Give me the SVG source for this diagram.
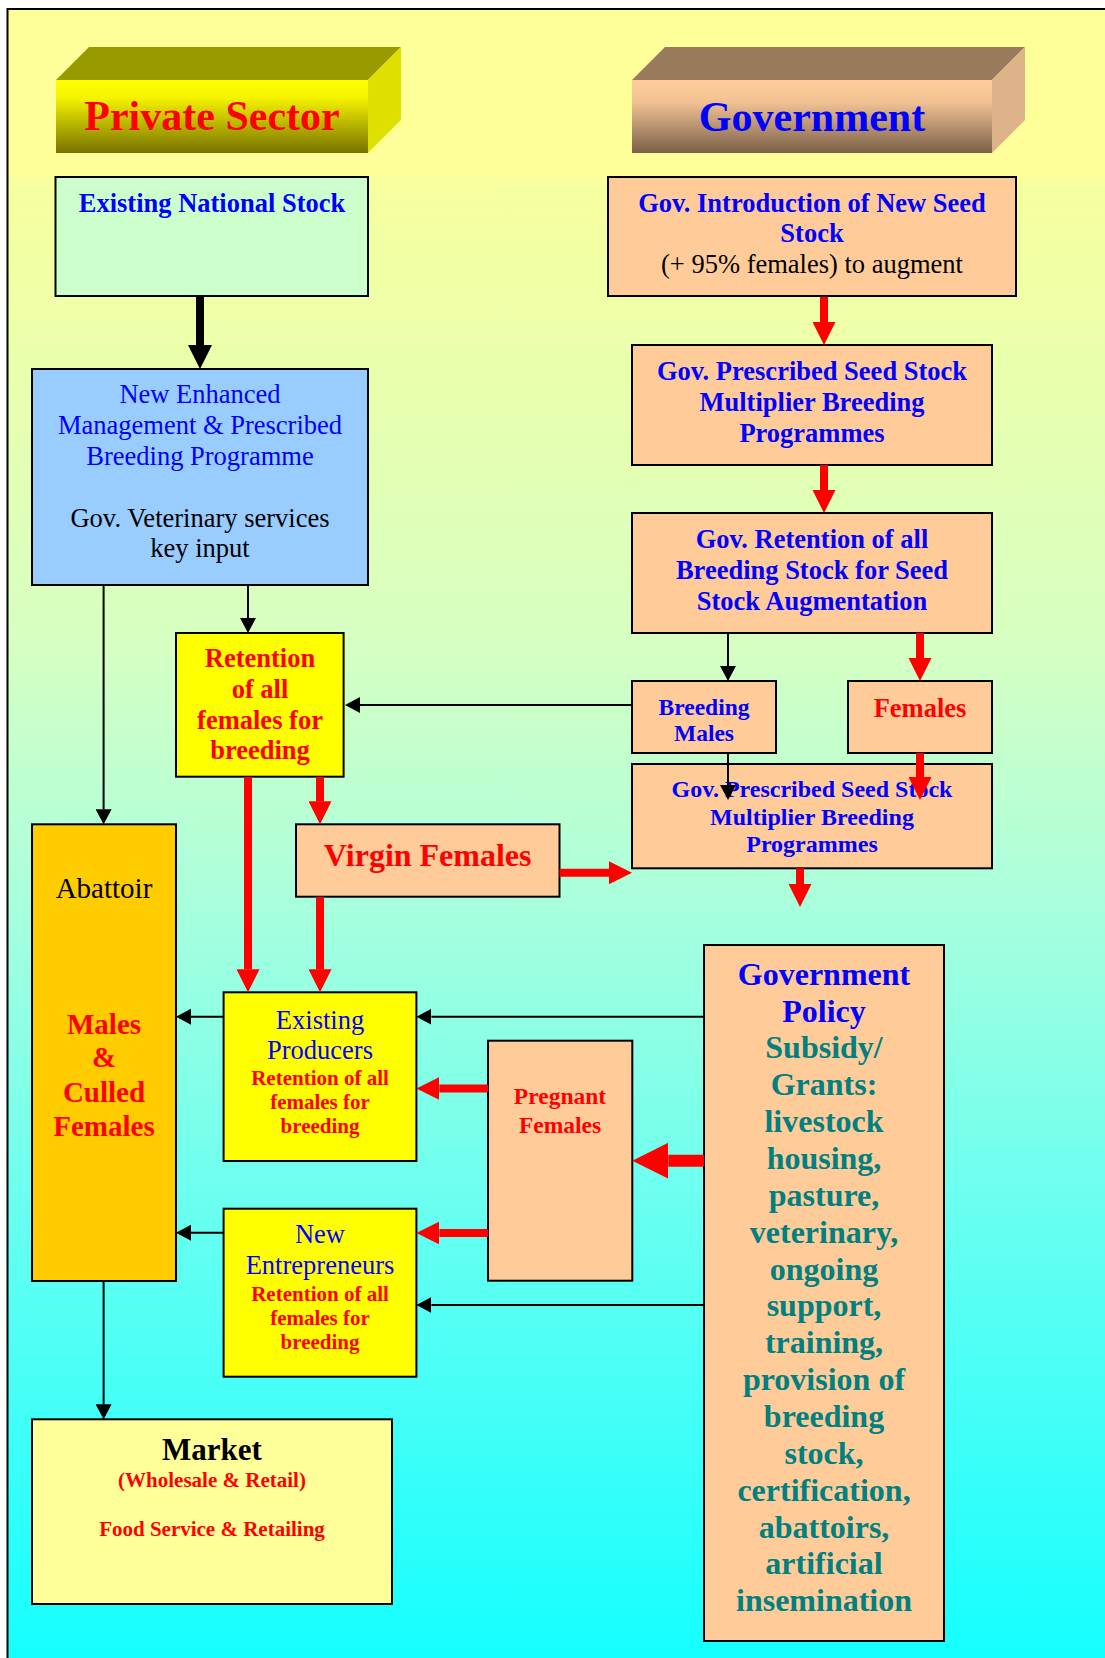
<svg xmlns="http://www.w3.org/2000/svg" width="1105" height="1658" viewBox="0 0 1105 1658">
<defs>
<linearGradient id="bg" gradientUnits="userSpaceOnUse" x1="0" y1="0" x2="0" y2="1658">
<stop offset="0" stop-color="#FFFF99"/>
<stop offset="0.103" stop-color="#FFFF99"/>
<stop offset="0.11" stop-color="#F7FF9E"/>
<stop offset="0.39" stop-color="#D6FFC2"/>
<stop offset="0.54" stop-color="#AAFFDC"/>
<stop offset="0.72" stop-color="#6CFFF0"/>
<stop offset="1" stop-color="#14FFFF"/>
</linearGradient>
<linearGradient id="psFront" x1="0" y1="0" x2="0" y2="1">
<stop offset="0" stop-color="#FFFF00"/>
<stop offset="0.25" stop-color="#F4F200"/>
<stop offset="1" stop-color="#777200"/>
</linearGradient>
<linearGradient id="gvFront" x1="0" y1="0" x2="0" y2="1">
<stop offset="0" stop-color="#FFCC99"/>
<stop offset="0.3" stop-color="#F2C294"/>
<stop offset="1" stop-color="#7A6048"/>
</linearGradient>
<marker id="hb" markerUnits="userSpaceOnUse" viewBox="0 0 15 16" markerWidth="15" markerHeight="16" refX="0" refY="8" orient="auto"><path d="M0,0 L15,8 L0,16 Z" fill="#000"/></marker>
<marker id="hbb" markerUnits="userSpaceOnUse" viewBox="0 0 24 24" markerWidth="24" markerHeight="24" refX="0" refY="12" orient="auto"><path d="M0,0 L24,12 L0,24 Z" fill="#000"/></marker>
<marker id="hr" markerUnits="userSpaceOnUse" viewBox="0 0 23 23" markerWidth="23" markerHeight="23" refX="0" refY="11.5" orient="auto"><path d="M0,0 L23,11.5 L0,23 Z" fill="#FF0000"/></marker>
<marker id="hrb" markerUnits="userSpaceOnUse" viewBox="0 0 36 36" markerWidth="36" markerHeight="36" refX="0" refY="18" orient="auto"><path d="M0,0 L36,18 L0,36 Z" fill="#FF0000"/></marker>
</defs>
<style>
.box{stroke:#000;stroke-width:2}
.t{font-family:"Liberation Serif","Times New Roman",serif;text-anchor:middle}
.b{font-weight:bold}
.s26{font-size:26.5px}
.s24{font-size:24px}
.s23{font-size:23.5px}
.s21{font-size:21px}
.s32{font-size:32px}
.blue{fill:#0000FF}
.red{fill:#FF0000}
.blk{fill:#000}
.teal{fill:#008080}
.thin{stroke:#000;stroke-width:2;fill:none;marker-end:url(#hb)}
.thick{stroke:#000;stroke-width:8;fill:none;marker-end:url(#hbb)}
.rd{stroke:#FF0000;stroke-width:8;fill:none;marker-end:url(#hr)}
.rdb{stroke:#FF0000;stroke-width:12;fill:none;marker-end:url(#hrb)}
</style>
<rect x="0" y="0" width="1105" height="1658" fill="#FFFFFF"/>
<rect x="7.5" y="9" width="1200" height="1700" fill="url(#bg)" stroke="#000" stroke-width="2"/>

<g id="private-sector">
<polygon points="56,80 89,47 401,47 368,80" fill="#999900"/>
<polygon points="368,80 401,47 401,120 368,153" fill="#E0E000"/>
<rect x="56" y="80" width="312" height="73" fill="url(#psFront)"/>
<text class="t b red" x="212" y="130" font-size="42">Private Sector</text>
</g>
<g id="government">
<polygon points="632,80 665,47 1025,47 992,80" fill="#997A5D"/>
<polygon points="992,80 1025,47 1025,120 992,153" fill="#DFB38A"/>
<rect x="632" y="80" width="360" height="73" fill="url(#gvFront)"/>
<text class="t b blue" x="812" y="131" font-size="42">Government</text>
</g>

<g id="existing-national-stock">
<rect class="box" x="55.5" y="177" width="312.5" height="119" fill="#CCFFCC"/>
<text class="t b blue s26" x="212" y="212">Existing National Stock</text>
</g>
<g id="gov-introduction">
<rect class="box" x="608" y="177" width="408" height="119" fill="#FFCC99"/>
<text class="t b blue s26" x="812" y="211.7">Gov. Introduction of New Seed</text>
<text class="t b blue s26" x="812" y="242">Stock</text>
<text class="t blk s26" x="812" y="272.7">(+ 95% females) to augment</text>
</g>
<g id="enhanced-management">
<rect class="box" x="32" y="369" width="336" height="216" fill="#99CCFF"/>
<text class="t blue s26" x="200" y="403.3">New Enhanced</text>
<text class="t blue s26" x="200" y="434.3">Management &amp; Prescribed</text>
<text class="t blue s26" x="200" y="465">Breeding Programme</text>
<text class="t blk s26" x="200" y="526.7">Gov. Veterinary services</text>
<text class="t blk s26" x="200" y="557.3">key input</text>
</g>
<g id="gov-prescribed-1">
<rect class="box" x="632" y="345" width="360" height="120" fill="#FFCC99"/>
<text class="t b blue s26" x="812" y="380">Gov. Prescribed Seed Stock</text>
<text class="t b blue s26" x="812" y="410.7">Multiplier Breeding</text>
<text class="t b blue s26" x="812" y="441.7">Programmes</text>
</g>
<g id="gov-retention">
<rect class="box" x="632" y="513" width="360" height="120" fill="#FFCC99"/>
<text class="t b blue s26" x="812" y="548.3">Gov. Retention of all</text>
<text class="t b blue s26" x="812" y="579">Breeding Stock for Seed</text>
<text class="t b blue s26" x="812" y="610">Stock Augmentation</text>
</g>
<g id="retention-females">
<rect class="box" x="176" y="633" width="167.6" height="143.7" fill="#FFFF00"/>
<text class="t b red s26" x="260" y="667.3">Retention</text>
<text class="t b red s26" x="260" y="698.3">of all</text>
<text class="t b red s26" x="260" y="729.3">females for</text>
<text class="t b red s26" x="260" y="759.3">breeding</text>
</g>
<g id="breeding-males">
<rect class="box" x="632" y="681" width="144" height="72" fill="#FFCC99"/>
<text class="t b blue s23" x="704" y="715">Breeding</text>
<text class="t b blue s23" x="704" y="740.7">Males</text>
</g>
<g id="females">
<rect class="box" x="848" y="681" width="144" height="72" fill="#FFCC99"/>
<text class="t b red s26" x="920" y="716.7">Females</text>
</g>
<g id="gov-prescribed-2">
<rect class="box" x="632" y="764" width="360" height="104.3" fill="#FFCC99"/>
<text class="t b blue s24" x="812" y="796.7">Gov. Prescribed Seed Stock</text>
<text class="t b blue s24" x="812" y="825">Multiplier Breeding</text>
<text class="t b blue s24" x="812" y="851.7">Programmes</text>
</g>
<g id="abattoir">
<rect class="box" x="32" y="824.3" width="144" height="456.7" fill="#FFCC00"/>
<text class="t blk" x="104" y="898.3" font-size="29px">Abattoir</text>
<text class="t b red" x="104" y="1034" font-size="29px">Males</text>
<text class="t b red" x="104" y="1067.3" font-size="29px">&amp;</text>
<text class="t b red" x="104" y="1101.7" font-size="29px">Culled</text>
<text class="t b red" x="104" y="1135.7" font-size="29px">Females</text>
</g>
<g id="virgin-females">
<rect class="box" x="296" y="824.3" width="263.5" height="72.4" fill="#FFCC99"/>
<text class="t b red s32" x="427.7" y="865.7">Virgin Females</text>
</g>
<g id="existing-producers">
<rect class="box" x="223.6" y="992.3" width="192.8" height="168.7" fill="#FFFF00"/>
<text class="t blue s26" x="320" y="1029">Existing</text>
<text class="t blue s26" x="320" y="1059">Producers</text>
<text class="t b red s21" x="320" y="1085">Retention of all</text>
<text class="t b red s21" x="320" y="1109">females for</text>
<text class="t b red s21" x="320" y="1133.3">breeding</text>
</g>
<g id="pregnant-females">
<rect class="box" x="488" y="1040.7" width="144.3" height="240" fill="#FFCC99"/>
<text class="t b red s23" x="560" y="1104">Pregnant</text>
<text class="t b red s23" x="560" y="1132.7">Females</text>
</g>
<g id="new-entrepreneurs">
<rect class="box" x="223.6" y="1208.7" width="192.8" height="168" fill="#FFFF00"/>
<text class="t blue s26" x="320" y="1243.3">New</text>
<text class="t blue s26" x="320" y="1274.3">Entrepreneurs</text>
<text class="t b red s21" x="320" y="1300.7">Retention of all</text>
<text class="t b red s21" x="320" y="1325">females for</text>
<text class="t b red s21" x="320" y="1349.3">breeding</text>
</g>
<g id="government-policy">
<rect class="box" x="704" y="945" width="240" height="696" fill="#FFCC99"/>
<text class="t b blue s32" x="824" y="985">Government</text>
<text class="t b blue s32" x="824" y="1021.7">Policy</text>
<text class="t b teal s32" x="824" y="1058.4">Subsidy/</text>
<text class="t b teal s32" x="824" y="1095.3">Grants:</text>
<text class="t b teal s32" x="824" y="1132.1">livestock</text>
<text class="t b teal s32" x="824" y="1169">housing,</text>
<text class="t b teal s32" x="824" y="1205.8">pasture,</text>
<text class="t b teal s32" x="824" y="1242.7">veterinary,</text>
<text class="t b teal s32" x="824" y="1279.6">ongoing</text>
<text class="t b teal s32" x="824" y="1316.4">support,</text>
<text class="t b teal s32" x="824" y="1353.3">training,</text>
<text class="t b teal s32" x="824" y="1390.1">provision of</text>
<text class="t b teal s32" x="824" y="1427">breeding</text>
<text class="t b teal s32" x="824" y="1463.9">stock,</text>
<text class="t b teal s32" x="824" y="1500.7">certification,</text>
<text class="t b teal s32" x="824" y="1537.6">abattoirs,</text>
<text class="t b teal s32" x="824" y="1574.4">artificial</text>
<text class="t b teal s32" x="824" y="1611.3">insemination</text>
</g>
<g id="market">
<rect class="box" x="32" y="1419.3" width="360" height="184.7" fill="#FFFF99"/>
<text class="t b blk" x="212" y="1460" font-size="31px">Market</text>
<text class="t b red s21" x="212" y="1486.7">(Wholesale &amp; Retail)</text>
<text class="t b red s21" x="212" y="1536">Food Service &amp; Retailing</text>
</g>

<g id="connectors">
<line class="thick" x1="200" y1="297" x2="200" y2="345"/>
<line class="thin" x1="103.6" y1="585" x2="103.6" y2="809.3"/>
<line class="thin" x1="248" y1="585" x2="248" y2="618"/>
<line class="rd" x1="824" y1="297" x2="824" y2="322"/>
<line class="rd" x1="824" y1="465" x2="824" y2="490"/>
<line class="thin" x1="728" y1="633" x2="728" y2="666"/>
<line class="rd" x1="920" y1="633" x2="920" y2="658"/>
<line class="thin" x1="632" y1="705" x2="360" y2="705"/>
<line class="thin" x1="728" y1="753" x2="728" y2="785"/>
<line class="rd" x1="920" y1="753" x2="920" y2="777"/>
<line class="rd" x1="320" y1="777" x2="320" y2="801.3"/>
<line class="rd" x1="248" y1="777" x2="248" y2="969.3"/>
<line class="rd" x1="320" y1="897" x2="320" y2="969.3"/>
<line class="rd" x1="559.5" y1="872.7" x2="609" y2="872.7"/>
<line class="rd" x1="800" y1="868.3" x2="800" y2="884"/>
<line class="thin" x1="704" y1="1016.7" x2="431.4" y2="1016.7"/>
<line class="thin" x1="223.6" y1="1016.7" x2="191" y2="1016.7"/>
<line class="rd" x1="488" y1="1088.5" x2="439.4" y2="1088.5"/>
<line class="rdb" x1="704" y1="1160.7" x2="668.3" y2="1160.7"/>
<line class="thin" x1="223.6" y1="1232.7" x2="191" y2="1232.7"/>
<line class="rd" x1="488" y1="1233" x2="439.4" y2="1233"/>
<line class="thin" x1="704" y1="1305" x2="431.4" y2="1305"/>
<line class="thin" x1="103.6" y1="1281" x2="103.6" y2="1404.3"/>
</g>
</svg>
